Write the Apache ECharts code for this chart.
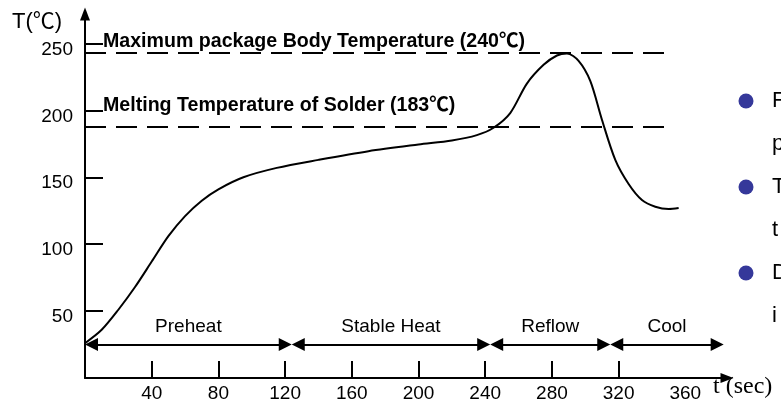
<!DOCTYPE html>
<html>
<head>
<meta charset="utf-8">
<script src="https://cdn.jsdelivr.net/npm/echarts@6/dist/echarts.min.js"></script>
<style>
  html, body { margin: 0; padding: 0; background: #fff; }
  #chart { width: 781px; height: 405px; }
</style>
</head>
<body>
<div id="chart"></div>
<script>
// reflow profile
const timeSec = [0, 10, 20, 30, 40, 50, 60, 70, 80, 95, 115, 140, 170, 200, 220, 235, 245, 255, 265, 275, 283, 289, 296, 303, 310, 318, 326, 334, 342, 350, 356];
const tempC = [26, 36, 51, 68, 87, 106, 121, 132.5, 141, 150, 157, 163, 169.5, 174.5, 177.5, 181.5, 187, 198, 220, 234, 241, 242.5, 237, 222, 193, 163, 145, 133, 128, 126.3, 127];

// dashed limit lines (drawn levels) and their captions
const limitTemps = [243, 188];
const limitLabels = ['Maximum package Body Temperature (240℃)', 'Melting Temperature of Solder (183℃)'];
const limitLabelGap = [1, 11];
const limitEnd = 352;

// phases along the bottom
const phaseBounds = [0, 124, 243, 315, 383];
const phaseNames = ['Preheat', 'Stable Heat', 'Reflow', 'Cool'];
const phaseLevel = 25;

// axis ticks / labels
const xTicks = [40, 80, 120, 160, 200, 240, 280, 320];
const xLabels = [40, 80, 120, 160, 200, 240, 280, 320, 360];
const yTicks = [50, 100, 150, 200, 250];

// clipped side notes
const noteHeads = ['F', 'p', 'T', 't', 'D', 'i'];

const chart = echarts.init(document.getElementById('chart'));

const limitData = limitTemps.map((t, i) => ([
  { coord: [0, t], label: { formatter: limitLabels[i], distance: [18, limitLabelGap[i]] } },
  { coord: [limitEnd, t] }
]));

// arrow heads sit inside each span: pull the ends in by half a head
const ARROW = 13;
const xPerPx = 385 / (781 - 85 - 54);
const inset = ARROW / 2 * xPerPx;
const phaseData = phaseNames.map((name, i) => ([
  { coord: [phaseBounds[i] + inset, phaseLevel], label: { formatter: name } },
  { coord: [phaseBounds[i + 1] - inset, phaseLevel] }
]));

const noteGraphics = [];
noteHeads.forEach((ch, i) => {
  const y = 101 + i * 43;
  if (i % 2 === 0) {
    noteGraphics.push({
      type: 'circle', shape: { cx: 746, cy: y, r: 7.5 },
      style: { fill: '#35389a' }
    });
  }
  noteGraphics.push({
    type: 'text', x: 772, y: y,
    style: { text: ch, font: '22px "Liberation Sans", Arial', fill: '#000', verticalAlign: 'middle' }
  });
});

const option = {
  animation: false,
  grid: { left: 85, right: 54, top: 14, bottom: 27 },
  xAxis: {
    type: 'value',
    min: 0,
    max: 385,
    interval: 40,
    splitLine: { show: false },
    axisLine: {
      symbol: ['none', 'triangle'],
      symbolSize: [10, 13],
      lineStyle: { color: '#000', width: 2 }
    },
    axisTick: {
      inside: true,
      length: 17,
      customValues: xTicks,
      lineStyle: { color: '#000', width: 2 }
    },
    axisLabel: {
      customValues: xLabels,
      color: '#000',
      fontSize: 19,
      fontFamily: '"Liberation Sans", Arial',
      margin: 6
    }
  },
  yAxis: {
    type: 'value',
    min: 0,
    max: 272,
    interval: 50,
    splitLine: { show: false },
    axisLine: {
      symbol: ['none', 'triangle'],
      symbolSize: [10, 13],
      lineStyle: { color: '#000', width: 2 }
    },
    axisTick: {
      inside: true,
      length: 18,
      customValues: yTicks,
      lineStyle: { color: '#000', width: 2 }
    },
    axisLabel: {
      customValues: yTicks,
      color: '#000',
      fontSize: 19,
      fontFamily: '"Liberation Sans", Arial',
      margin: 12,
      verticalAlign: 'top',
      lineHeight: 12
    }
  },
  series: [
    {
      type: 'line',
      data: timeSec.map((t, i) => [t, tempC[i]]),
      smooth: 0.3,
      symbol: 'none',
      lineStyle: { color: '#000', width: 2 },
      markLine: {
        silent: true,
        symbol: 'none',
        lineStyle: { color: '#000', width: 2, type: [21, 10] },
        label: {
          position: 'insideStartTop',
          color: '#000',
          fontSize: 19.6,
          fontWeight: 'bold',
          fontFamily: '"Liberation Sans", Arial, "Noto Sans CJK SC"'
        },
        data: limitData
      }
    },
    {
      type: 'line',
      data: [],
      markLine: {
        silent: true,
        symbol: ['triangle', 'triangle'],
        symbolSize: ARROW,
        lineStyle: { color: '#000', width: 2, type: 'solid' },
        label: {
          position: 'middle',
          distance: 8,
          color: '#000',
          fontSize: 19,
          fontFamily: '"Liberation Sans", Arial'
        },
        data: phaseData
      }
    }
  ],
  graphic: [
    {
      type: 'text', x: 12, y: 11,
      style: { text: 'T(℃)', font: '22px "Liberation Sans", "Noto Sans CJK SC"', fill: '#000' }
    },
    {
      type: 'text', x: 713, y: 375,
      style: { text: 't (sec)', font: '24px "Liberation Serif", serif', fill: '#000' }
    }
  ].concat(noteGraphics)
};

chart.setOption(option);
</script>
</body>
</html>
